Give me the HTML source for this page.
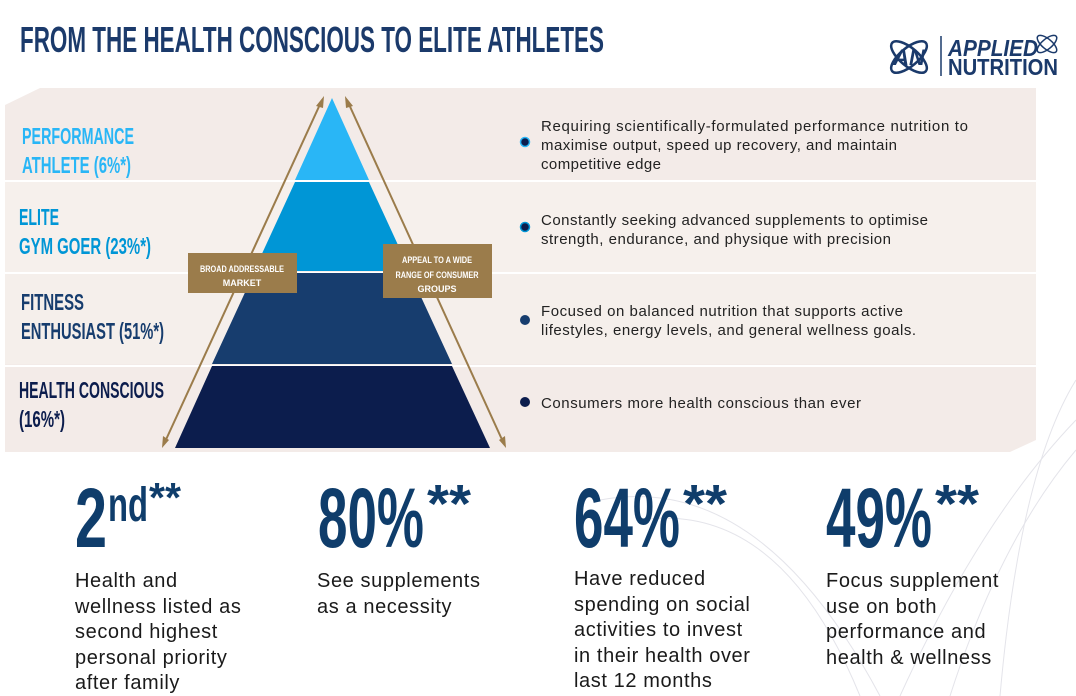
<!DOCTYPE html>
<html><head><meta charset="utf-8"><style>
html,body{margin:0;padding:0;background:#fff;}
svg{display:block;}
.c{font-family:"Liberation Sans Narrow","Liberation Sans",sans-serif;font-weight:bold;}
.b{font-family:"Liberation Sans",sans-serif;}
</style></head><body>
<svg width="1076" height="696" viewBox="0 0 1076 696" xmlns="http://www.w3.org/2000/svg">
<g stroke="#e4e4ea" fill="none" stroke-width="1">
<path d="M1076 420 Q980 520 900 696"/><path d="M1076 450 Q1000 540 950 696"/>
<path d="M600 500 Q760 470 880 696"/><path d="M640 520 Q780 500 860 696"/>
<path d="M1076 380 Q1020 470 1000 696"/>
</g>
<text x="20" y="52" class="c" font-size="36" fill="#1b3a6b" textLength="584" lengthAdjust="spacingAndGlyphs">FROM THE HEALTH CONSCIOUS TO ELITE ATHLETES</text>
<g>
<ellipse cx="909" cy="57" rx="22" ry="9" fill="none" stroke="#1b3a6b" stroke-width="2.5" transform="rotate(40 909 57)"/>
<ellipse cx="909" cy="57" rx="22" ry="9" fill="none" stroke="#1b3a6b" stroke-width="2.5" transform="rotate(-40 909 57)"/>
<text x="909" y="65" text-anchor="middle" class="c" font-size="22" font-style="italic" fill="#1b3a6b">AN</text>
<line x1="941" y1="36" x2="941" y2="76" stroke="#1b3a6b" stroke-width="1.5"/>
<text x="948" y="56" class="c" font-size="23" font-style="italic" fill="#1b3a6b" textLength="90" lengthAdjust="spacingAndGlyphs">APPLIED</text>
<text x="948" y="75" class="c" font-size="23" fill="#1b3a6b" textLength="110" lengthAdjust="spacingAndGlyphs">NUTRITION</text>
<ellipse cx="1047" cy="44" rx="12" ry="5" fill="none" stroke="#1b3a6b" stroke-width="1.5" transform="rotate(40 1047 44)"/>
<ellipse cx="1047" cy="44" rx="12" ry="5" fill="none" stroke="#1b3a6b" stroke-width="1.5" transform="rotate(-40 1047 44)"/>
</g>
<path d="M5 105 L40 88 L1036 88 L1036 440 L1010 452 L5 452 Z" fill="#f3ebe8"/>
<rect x="5" y="182" width="1031" height="90" fill="#f6f0ec"/>
<rect x="5" y="274" width="1031" height="90" fill="#f5efeb"/>
<g stroke="#ffffff" stroke-width="2">
<line x1="5" y1="181" x2="1036" y2="181"/>
<line x1="5" y1="273" x2="1036" y2="273"/>
<line x1="5" y1="366" x2="1036" y2="366"/>
</g>
<polygon points="332,98 369,180 295,180" fill="#29b6f6"/>
<polygon points="295,182 369,182 410,271 254,271" fill="#0096d6"/>
<polygon points="254,273 410,273 452,364 212,364" fill="#173d6e"/>
<polygon points="212,366 452,366 490,448 175,448" fill="#0c1d4d"/>
<g stroke="#9b7c4b" stroke-width="2" fill="#9b7c4b">
<line x1="164" y1="444" x2="322" y2="100"/>
<line x1="347" y1="100" x2="504" y2="444"/>
<polygon points="324,96 316,106 323,108" stroke="none"/>
<polygon points="162,448 163,436 169,440" stroke="none"/>
<polygon points="345,96 353,106 346,108" stroke="none"/>
<polygon points="506,448 505,436 499,440" stroke="none"/>
</g>
<rect x="188" y="253" width="109" height="40" fill="#9b7c4b"/>
<text x="242" y="272" text-anchor="middle" class="c" font-size="9" fill="#fff" textLength="84" lengthAdjust="spacingAndGlyphs">BROAD ADDRESSABLE</text>
<text x="242" y="286" text-anchor="middle" class="c" font-size="9" fill="#fff">MARKET</text>
<rect x="383" y="244" width="109" height="54" fill="#9b7c4b"/>
<text x="437" y="263" text-anchor="middle" class="c" font-size="9" fill="#fff" textLength="70" lengthAdjust="spacingAndGlyphs">APPEAL TO A WIDE</text>
<text x="437" y="278" text-anchor="middle" class="c" font-size="9" fill="#fff" textLength="83" lengthAdjust="spacingAndGlyphs">RANGE OF CONSUMER</text>
<text x="437" y="292" text-anchor="middle" class="c" font-size="9" fill="#fff">GROUPS</text>
<g class="c" font-size="23">
<text x="22" y="144" fill="#29b6f6" textLength="112" lengthAdjust="spacingAndGlyphs">PERFORMANCE</text>
<text x="22" y="173" fill="#29b6f6" textLength="109" lengthAdjust="spacingAndGlyphs">ATHLETE (6%*)</text>
<text x="19" y="225" fill="#0096d6" textLength="40" lengthAdjust="spacingAndGlyphs">ELITE</text>
<text x="19" y="254" fill="#0096d6" textLength="132" lengthAdjust="spacingAndGlyphs">GYM GOER (23%*)</text>
<text x="21" y="310" fill="#173d6e" textLength="63" lengthAdjust="spacingAndGlyphs">FITNESS</text>
<text x="21" y="339" fill="#173d6e" textLength="143" lengthAdjust="spacingAndGlyphs">ENTHUSIAST (51%*)</text>
<text x="19" y="398" fill="#0c1d4d" textLength="145" lengthAdjust="spacingAndGlyphs">HEALTH CONSCIOUS</text>
<text x="19" y="427" fill="#0c1d4d" textLength="46" lengthAdjust="spacingAndGlyphs">(16%*)</text>
</g>
<circle cx="525" cy="142" r="4.5" fill="#0c1d4d" stroke="#29b6f6" stroke-width="1.5"/>
<circle cx="525" cy="227" r="4.5" fill="#0c1d4d" stroke="#0096d6" stroke-width="1.5"/>
<circle cx="525" cy="320" r="5" fill="#173d6e"/>
<circle cx="525" cy="402" r="5" fill="#0c1d4d"/>
<g class="b" font-size="15" fill="#222" lengthAdjust="spacing">
<text x="541" y="131" textLength="427">Requiring scientifically-formulated performance nutrition to</text>
<text x="541" y="150" textLength="356">maximise output, speed up recovery, and maintain</text>
<text x="541" y="169" textLength="120">competitive edge</text>
<text x="541" y="225" textLength="387">Constantly seeking advanced supplements to optimise</text>
<text x="541" y="244" textLength="350">strength, endurance, and physique with precision</text>
<text x="541" y="316" textLength="362">Focused on balanced nutrition that supports active</text>
<text x="541" y="335" textLength="375">lifestyles, energy levels, and general wellness goals.</text>
<text x="541" y="408" textLength="320">Consumers more health conscious than ever</text>
</g>
<g class="c" fill="#0f3d6b">
<text x="75" y="547" font-size="84" textLength="32" lengthAdjust="spacingAndGlyphs">2</text>
<text x="108" y="521" font-size="48" textLength="40" lengthAdjust="spacingAndGlyphs">nd</text>
<text x="149" y="512" font-size="42" textLength="32" lengthAdjust="spacingAndGlyphs">**</text>
<text x="318" y="547" font-size="84" textLength="106" lengthAdjust="spacingAndGlyphs">80%</text>
<text x="427" y="522" font-size="54" textLength="44" lengthAdjust="spacingAndGlyphs">**</text>
<text x="574" y="547" font-size="84" textLength="106" lengthAdjust="spacingAndGlyphs">64%</text>
<text x="683" y="522" font-size="54" textLength="44" lengthAdjust="spacingAndGlyphs">**</text>
<text x="826" y="547" font-size="84" textLength="106" lengthAdjust="spacingAndGlyphs">49%</text>
<text x="935" y="522" font-size="54" textLength="44" lengthAdjust="spacingAndGlyphs">**</text>
</g>
<g class="b" font-size="20" fill="#1a1a1a" letter-spacing="0.6">
<text x="75" y="587">Health and</text>
<text x="75" y="613">wellness listed as</text>
<text x="75" y="638">second highest</text>
<text x="75" y="664">personal priority</text>
<text x="75" y="689">after family</text>
<text x="317" y="587">See supplements</text>
<text x="317" y="613">as a necessity</text>
<text x="574" y="585">Have reduced</text>
<text x="574" y="611">spending on social</text>
<text x="574" y="636">activities to invest</text>
<text x="574" y="662">in their health over</text>
<text x="574" y="687">last 12 months</text>
<text x="826" y="587">Focus supplement</text>
<text x="826" y="613">use on both</text>
<text x="826" y="638">performance and</text>
<text x="826" y="664">health &amp; wellness</text>
</g>
</svg>
</body></html>
